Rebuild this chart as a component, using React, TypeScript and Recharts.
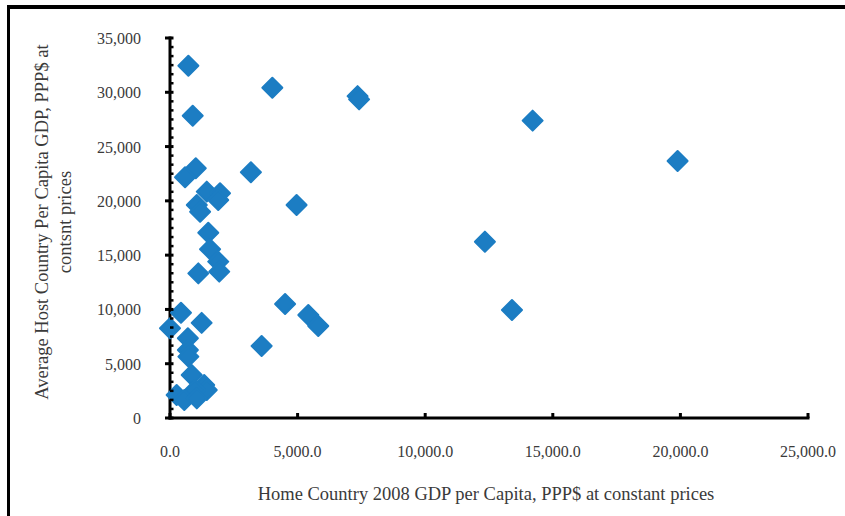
import React from 'react';
import { ScatterChart, Scatter, XAxis, YAxis } from 'recharts';

// Home country 2008 GDP per capita (x) and average host country GDP per capita (y)
const homeGdp = [
  720, 4010, 7350, 7410, 890, 14210, 19890, 1010, 590, 3170,
  1440, 1960, 1890, 1050, 1180, 4960, 1500, 1570, 1890, 1930,
  1110, 12340, 13400, 4510, 5420, 5810, 3590, 430, 0, 1240,
  700, 700, 720, 850, 1340, 1440, 980, 260, 560, 1050,
];
const hostGdp = [
  32450, 30420, 29650, 29350, 27840, 27390, 23670, 23000, 22170, 22630,
  20850, 20700, 20080, 19620, 19000, 19620, 17060, 15550, 14400, 13480,
  13320, 16240, 9950, 10500, 9490, 8470, 6630, 9700, 8260, 8760,
  7340, 6260, 5650, 3960, 3040, 2580, 2580, 2120, 1660, 1810,
];
const xTicks = [0, 5000, 10000, 15000, 20000, 25000];
const yTicks = [0, 5000, 10000, 15000, 20000, 25000, 30000, 35000];
const MINOR_STEPS = 6;

const FONT = '"Liberation Serif", "Times New Roman", serif';
const TEXT = '#3a3a3a';
const BLUE = '#1c7dc3';

const points = homeGdp.map((x, i) => ({ x, y: hostGdp[i] }));

// major + minor tick positions on the y axis
const yAllTicks: number[] = [];
for (let i = 0; i < yTicks.length - 1; i++) {
  const step = (yTicks[i + 1] - yTicks[i]) / MINOR_STEPS;
  for (let j = 0; j < MINOR_STEPS; j++) yAllTicks.push(yTicks[i] + step * j);
}
yAllTicks.push(yTicks[yTicks.length - 1]);

const YTick = (props: any) => {
  const { x, y, payload } = props;
  const major = yTicks.includes(payload.value);
  return (
    <g>
      <line x1={major ? x - 5 : x} x2={x + 3.5} y1={y} y2={y} stroke="#000" strokeWidth={major ? 3 : 2.5} />
      {major && (
        <text x={x - 29} y={y + 6} textAnchor="end" fontFamily={FONT} fontSize={16} fill={TEXT}>
          {payload.value.toLocaleString('en-US')}
        </text>
      )}
    </g>
  );
};

const XTick = (props: any) => {
  const { x, y, payload } = props;
  return (
    <g>
      <line x1={x} x2={x} y1={y - 5} y2={y} stroke="#000" strokeWidth={3} />
      <text x={x} y={y + 38.5} textAnchor="middle" fontFamily={FONT} fontSize={16} fill={TEXT}>
        {payload.value.toLocaleString('en-US', { minimumFractionDigits: 1, maximumFractionDigits: 1 })}
      </text>
    </g>
  );
};

const Diamond = (props: any) => {
  const { cx, cy } = props;
  const r = 10;
  return (
    <path
      d={`M${cx},${cy - r}L${cx + r},${cy}L${cx},${cy + r}L${cx - r},${cy}Z`}
      fill={BLUE}
      stroke={BLUE}
      strokeWidth={2}
      strokeLinejoin="round"
    />
  );
};

export default function App() {
  return (
    <div style={{ position: 'absolute', left: 0, top: 0, width: 845, height: 516, overflow: 'hidden', background: '#fff' }}>
      <div
        style={{
          position: 'absolute', left: 7, top: 5, width: 900, height: 600,
          borderTop: '4px solid #000', borderLeft: '3px solid #000',
        }}
      />
      <div style={{ position: 'absolute', left: 0, top: 0 }}>
        <ScatterChart width={845} height={516} margin={{ top: 38, right: 37, bottom: 38, left: 110 }}>
          <XAxis
            type="number"
            dataKey="x"
            domain={[0, 25000]}
            ticks={xTicks}
            interval={0}
            height={60}
            tickSize={0}
            tickMargin={0}
            tickLine={false}
            tick={<XTick />}
            axisLine={{ stroke: '#000', strokeWidth: 3, strokeLinecap: 'square' }}
          />
          <YAxis
            type="number"
            dataKey="y"
            domain={[0, 35000]}
            ticks={yAllTicks}
            interval={0}
            width={60}
            tickSize={0}
            tickMargin={0}
            tickLine={false}
            tick={<YTick />}
            axisLine={{ stroke: '#000', strokeWidth: 3, strokeLinecap: 'square' }}
          />
          <Scatter data={points} shape={<Diamond />} isAnimationActive={false} />
        </ScatterChart>
      </div>
      <svg width={845} height={516} style={{ position: 'absolute', left: 0, top: 0, pointerEvents: 'none' }}>
        <text x={48} y={222} transform="rotate(-90 48 222)" textAnchor="middle" fontFamily={FONT} fontSize={18.5} fill={TEXT}>
          Average Host Country Per Capita GDP, PPP$ at
        </text>
        <text x={71} y={222} transform="rotate(-90 71 222)" textAnchor="middle" fontFamily={FONT} fontSize={18.5} fill={TEXT}>
          contsnt prices
        </text>
        <text x={486} y={500} textAnchor="middle" fontFamily={FONT} fontSize={18.5} fill={TEXT}>
          Home Country 2008 GDP per Capita, PPP$ at constant prices
        </text>
      </svg>
    </div>
  );
}
